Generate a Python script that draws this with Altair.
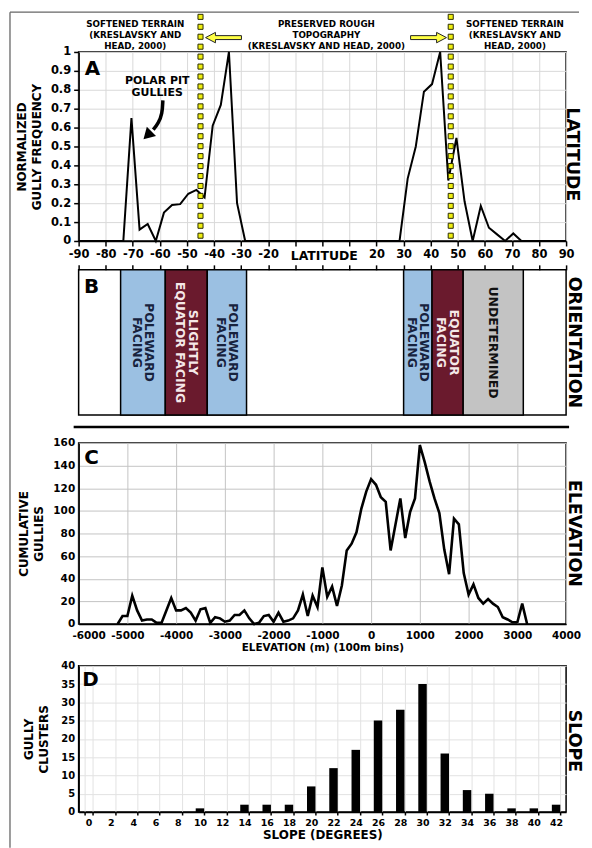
import altair as alt
import numpy as np
import pandas as pd

FONT = "DejaVu Sans"

# ---------------- Panel A: normalized gully frequency vs latitude ----------------
a_lat = [-90, -73.5, -70.5, -67.5, -64.5, -61.5, -58.5, -55.5, -52.5, -49.5,
         -46.5, -43.5, -40.5, -37.5, -34.5, -31.5, -28.5,
         28.5, 31.5, 34.5, 37.5, 40.5, 43.5, 46.5, 49.5, 52.5, 55.5,
         58.5, 61.5, 64.5, 67.5, 70.5, 73.5, 90]
a_freq = [0, 0, 0.65, 0.06, 0.09, 0.0, 0.15, 0.19, 0.195, 0.25,
          0.27, 0.23, 0.61, 0.72, 1.0, 0.2, 0,
          0, 0.33, 0.50, 0.79, 0.83, 1.0, 0.32, 0.545, 0.21, 0,
          0.185, 0.07, 0.035, 0, 0.04, 0, 0]
boundary_lat = [-45, 47.4]
top_lines = ["SOFTENED TERRAIN", "(KRESLAVSKY AND", "HEAD, 2000)",
             "PRESERVED ROUGH", "TOPOGRAPHY", "(KRESLAVSKY AND HEAD, 2000)",
             "SOFTENED TERRAIN", "(KRESLAVSKY AND", "HEAD, 2000)"]
top_lines_lat = [-69.1, -69.1, -69.1, 1.5, 1.5, 1.5, 71.1, 71.1, 71.1]
top_lines_row = [0, 1, 2, 0, 1, 2, 0, 1, 2]

# ---------------- Panel B: orientation bands ----------------
b_start = [-74.5, -58, -42.5, 30, 40.5, 52]
b_end = [-58, -42.5, -28, 40.5, 52, 74.2]
b_kind = ["pole", "equator", "pole", "pole", "equator", "undet"]
b_text = ["POLEWARD", "FACING", "SLIGHTLY", "EQUATOR FACING", "POLEWARD", "FACING",
          "POLEWARD", "FACING", "EQUATOR", "FACING", "UNDETERMINED"]
b_text_band = [0, 0, 1, 1, 2, 2, 3, 3, 4, 4, 5]
b_text_line = [0, 1, 0, 1, 0, 1, 0, 1, 0, 1, 0]

# ---------------- Panel C: elevation (100 m bins) ----------------
c_elev = list(range(-5200, 3201, 100))
c_count = [0, 7, 7, 25, 12, 3, 4, 4, 1, 1,
           12, 23, 12, 12, 14, 10, 3, 13, 14, 1,
           6, 5, 2, 3, 8, 8, 12, 5, 0, 1,
           7, 8, 2, 10, 2, 3, 5, 12, 26, 7,
           25, 15, 50, 24, 33, 16, 34, 65, 71, 81,
           102, 117, 128, 123, 112, 108, 65, 88, 111, 76,
           99, 111, 158, 143, 126, 111, 98, 66, 44, 93,
           88, 45, 26, 35, 23, 18, 22, 18, 15, 6,
           4, 1.5, 1.5, 18, 0]

# ---------------- Panel D: slope ----------------
d_slope = list(range(0, 43, 2))
d_count = [0, 0, 0, 0, 0, 1, 0, 2, 2, 2, 7, 12, 17, 25, 28, 35, 16, 6, 5, 1, 1, 2]

W = 490
HA, HB, HC, HD = 190, 146, 182, 147
S = 9
PX_PER_DEG = W / 180.0

one = pd.DataFrame({"k": [0]})


def T(size, **kw):
    d = dict(font=FONT, fontWeight="bold", fontSize=size, color="black")
    d.update(kw)
    return d


# ================= Panel A =================
xA_scale = alt.Scale(domain=[-90, 90], nice=False, zero=False)
yA_scale = alt.Scale(domain=[0, 1], nice=False, zero=False)
xA_axis = alt.Axis(values=list(range(-90, 91, 10)),
                   labelExpr="abs(datum.value) < 15 ? '' : '' + datum.value",
                   labelOverlap=False, labelFlush=False, title=None, tickSize=5, labelPadding=3,
                   labelFontSize=11.5, grid=True, gridColor="#d9d9d9")
yA_axis = alt.Axis(values=[round(i * 0.1, 1) for i in range(11)],
                   labelExpr="'' + datum.value", labelOverlap=False,
                   title=["NORMALIZED", "GULLY FREQUENCY"], titleLineHeight=15,
                   tickSize=5, labelPadding=3, labelFontSize=11.5, titlePadding=7,
                   grid=True, gridColor="#d9d9d9")


def XA():
    return alt.X("lat:Q", scale=xA_scale, axis=xA_axis)


def YA():
    return alt.Y("v:Q", scale=yA_scale, axis=yA_axis)


dfA = pd.DataFrame({"lat": a_lat, "v": a_freq})
lineA = alt.Chart(dfA).mark_line(color="black", strokeWidth=2).encode(x=XA(), y=YA())

sq_rel = np.arange(-35.3, 186, 10.0)
dfSq = pd.DataFrame([{"lat": b, "v": 1 - r / HA} for b in boundary_lat for r in sq_rel])
squares = alt.Chart(dfSq).mark_square(size=26, filled=True, fill="#eeee10", stroke="#2b2b00",
                                      strokeWidth=1, opacity=1).encode(x=XA(), y=YA())

pathL = "M -1 0 L -0.45 -0.29 L -0.45 -0.11 L 1 -0.11 L 1 0.11 L -0.45 0.11 L -0.45 0.29 Z"
pathR = "M 1 0 L 0.45 -0.29 L 0.45 -0.11 L -1 -0.11 L -1 0.11 L 0.45 0.11 L 0.45 0.29 Z"
arrL = alt.Chart(pd.DataFrame({"lat": [-36.5], "v": [1.076]})).mark_point(
    shape=pathL, size=1300, filled=True, fill="#ffff44", stroke="#222", strokeWidth=1, opacity=1
).encode(x=XA(), y=YA())
arrR = alt.Chart(pd.DataFrame({"lat": [39.2], "v": [1.076]})).mark_point(
    shape=pathR, size=1300, filled=True, fill="#ffff44", stroke="#222", strokeWidth=1, opacity=1
).encode(x=XA(), y=YA())

dfTop = pd.DataFrame({"lat": top_lines_lat,
                      "v": [1 + (28 - 11 * r) / HA for r in top_lines_row],
                      "t": top_lines})
topTxt = alt.Chart(dfTop).mark_text(**T(8.8), baseline="middle", align="center").encode(
    x=XA(), y=YA(), text="t:N")

dfPolar = pd.DataFrame({"lat": [-61.0, -61.0], "v": [0.847, 0.784], "t": ["POLAR PIT", "GULLIES"]})
polarTxt = alt.Chart(dfPolar).mark_text(**T(11), baseline="middle").encode(x=XA(), y=YA(), text="t:N")

dfCurve = pd.DataFrame({"lat": [-58.9, -59.1, -60.6, -62.45], "v": [0.744, 0.674, 0.621, 0.589],
                        "o": [0, 1, 2, 3]})
curve = alt.Chart(dfCurve).mark_line(color="black", strokeWidth=3.5, interpolate="basis").encode(
    x=XA(), y=YA(), order="o:Q")
head = alt.Chart(pd.DataFrame({"lat": [-64.1], "v": [0.566]})).mark_point(
    shape="triangle", size=170, filled=True, color="black", angle=225, opacity=1).encode(x=XA(), y=YA())

latTitle = alt.Chart(pd.DataFrame({"lat": [0.7]})).mark_text(**T(12.5), baseline="middle").encode(
    x=XA(), y=alt.value(HA + 15), text=alt.value("LATITUDE"))
letterA = alt.Chart(one).mark_text(**T(20), baseline="middle").encode(
    x=alt.value(14), y=alt.value(17), text=alt.value("A"))
rightA = alt.Chart(one).mark_text(**T(17.5), angle=90, baseline="middle").encode(
    x=alt.value(W + 6), y=alt.value(HA / 2 + 8), text=alt.value("LATITUDE"))
frameTop = alt.Chart(one).mark_rule(color="#666666", strokeWidth=1.3).encode(
    x=alt.value(-69), x2=alt.value(503), y=alt.value(-40))
frameLeft = alt.Chart(one).mark_rule(color="#666666", strokeWidth=1.3).encode(
    x=alt.value(-69), y=alt.value(-40), y2=alt.value(800))

panelA = alt.layer(frameTop, frameLeft, lineA, squares, arrL, arrR, topTxt, polarTxt, curve, head,
                   latTitle, letterA, rightA).properties(width=W, height=HA)

# ================= Panel B =================
xB_scale = alt.Scale(domain=[-90, 90], nice=False, zero=False)
xB_axis = alt.Axis(orient="top", values=list(range(-90, 91, 10)), labels=False, domain=False,
                   grid=False, tickSize=5, title=None)
kinds = ["pole", "equator", "undet"]
dfB = pd.DataFrame({"start": b_start, "end": b_end, "kind": b_kind})
rects = alt.Chart(dfB).mark_rect(stroke="black", strokeWidth=1.5).encode(
    x=alt.X("start:Q", scale=xB_scale, axis=xB_axis), x2="end:Q",
    y=alt.value(0), y2=alt.value(HB),
    fill=alt.Fill("kind:N", scale=alt.Scale(domain=kinds, range=["#9bc0e2", "#6a1a2d", "#c3c3c3"])))

LINE_H = 12.5
txt_rows = []
for t, bi, li in zip(b_text, b_text_band, b_text_line):
    nlines = b_text_band.count(bi)
    mid = (b_start[bi] + b_end[bi]) / 2
    off_px = (LINE_H / 2) * (nlines - 1) - li * LINE_H
    txt_rows.append({"pos": mid + off_px / PX_PER_DEG, "t": t, "kind": b_kind[bi]})
dfBT = pd.DataFrame(txt_rows)
bandTxt = alt.Chart(dfBT).mark_text(**T(12.5), angle=90, baseline="middle", align="center").encode(
    x=alt.X("pos:Q", scale=xB_scale, axis=xB_axis), y=alt.value(HB / 2), text="t:N",
    color=alt.Color("kind:N", scale=alt.Scale(domain=kinds, range=["#17223d", "#f5e8e8", "#111111"])))
letterB = alt.Chart(one).mark_text(**T(20), baseline="middle").encode(
    x=alt.value(13), y=alt.value(17), text=alt.value("B"))
rightB = alt.Chart(one).mark_text(**T(17.5), angle=90, baseline="middle").encode(
    x=alt.value(W + 8), y=alt.value(HB / 2), text=alt.value("ORIENTATION"))
panelB = alt.layer(rects, bandTxt, letterB, rightB).properties(width=W, height=HB)

# ================= Panel C =================
dfC = pd.DataFrame({"elev": c_elev, "n": c_count})
lineC = alt.Chart(dfC).mark_line(color="black", strokeWidth=2.6).encode(
    x=alt.X("elev:Q", scale=alt.Scale(domain=[-6000, 4000], nice=False, zero=False),
            axis=alt.Axis(values=list(range(-6000, 4001, 1000)), labelExpr="'' + datum.value",
                          labelOverlap=False, labelFlush=False,
                          labelOffset=alt.condition("datum.value == -6000", alt.value(10), alt.value(0)),
                          ticks=False, labelPadding=7,
                          labelFontSize=10.5, title="ELEVATION (m) (100m bins)", titleFontSize=10.5,
                          titlePadding=1, grid=True, gridColor="#c4c4c4")),
    y=alt.Y("n:Q", scale=alt.Scale(domain=[0, 160], nice=False),
            axis=alt.Axis(values=list(range(0, 161, 20)), labelOverlap=False, ticks=False,
                          labelPadding=4, labelFontSize=10.5, title=["CUMULATIVE", "GULLIES"],
                          titleLineHeight=15, titlePadding=7, grid=True, gridColor="#c4c4c4")))
letterC = alt.Chart(one).mark_text(**T(20), baseline="middle").encode(
    x=alt.value(13), y=alt.value(15), text=alt.value("C"))
rightC = alt.Chart(one).mark_text(**T(17.5), angle=90, baseline="middle").encode(
    x=alt.value(W + 8), y=alt.value(HC / 2), text=alt.value("ELEVATION"))
panelC = alt.layer(lineC, letterC, rightC).properties(width=W, height=HC)

# ================= Panel D =================
dfD = pd.DataFrame({"slope": d_slope, "n": d_count})
bars = alt.Chart(dfD).mark_bar(color="black").encode(
    x=alt.X("slope:O", scale=alt.Scale(paddingInner=0.62, paddingOuter=0.26),
            axis=alt.Axis(labelAngle=0, labelOverlap=False, tickBand="extent", tickSize=3,
                          labelPadding=3, labelFontSize=9.5, title="SLOPE (DEGREES)",
                          titleFontSize=12, titlePadding=2, grid=True, gridColor="#e2e2e2")),
    y=alt.Y("n:Q", scale=alt.Scale(domain=[0, 40], nice=False),
            axis=alt.Axis(values=list(range(0, 41, 5)), labelOverlap=False, ticks=False,
                          labelPadding=4, labelFontSize=10, title=["GULLY", "CLUSTERS"],
                          titleLineHeight=15, titlePadding=10, grid=True, gridColor="#e2e2e2")))
letterD = alt.Chart(one).mark_text(**T(20), baseline="middle").encode(
    x=alt.value(12), y=alt.value(14), text=alt.value("D"))
rightD = alt.Chart(one).mark_text(**T(17.5), angle=90, baseline="middle").encode(
    x=alt.value(W + 8), y=alt.value(HD / 2 + 2), text=alt.value("SLOPE"))
panelD = alt.layer(bars, letterD, rightD).properties(width=W, height=HD)


# ================= spacers =================
def spacer(h, line=False):
    if line:
        m = alt.Chart(one).mark_rule(color="black", strokeWidth=2.5).encode(
            x=alt.value(-5), x2=alt.value(W + 3), y=alt.value(3))
    else:
        m = alt.Chart(one).mark_rule(strokeOpacity=0).encode(
            x=alt.value(0), x2=alt.value(1), y=alt.value(0))
    return m.properties(width=W, height=h, view=alt.ViewBackground(stroke="transparent"))


chart = alt.vconcat(panelA, spacer(29 - 2 * S), panelB, spacer(28 - 2 * S, line=True), panelC,
                    spacer(42 - 2 * S), panelD, spacing=S, bounds="flush").properties(
    padding=0
).configure_view(
    stroke="black", strokeWidth=1.5
).configure_axis(
    labelFont=FONT, labelFontWeight="bold", labelColor="black",
    titleFont=FONT, titleFontWeight="bold", titleFontSize=12, titleColor="black",
    domainColor="black", domainWidth=1.5, tickColor="black", tickWidth=1.5, gridWidth=1
).configure_legend(disable=True)

chart.save("out.html", embed_options={"renderer": "svg", "actions": False})
